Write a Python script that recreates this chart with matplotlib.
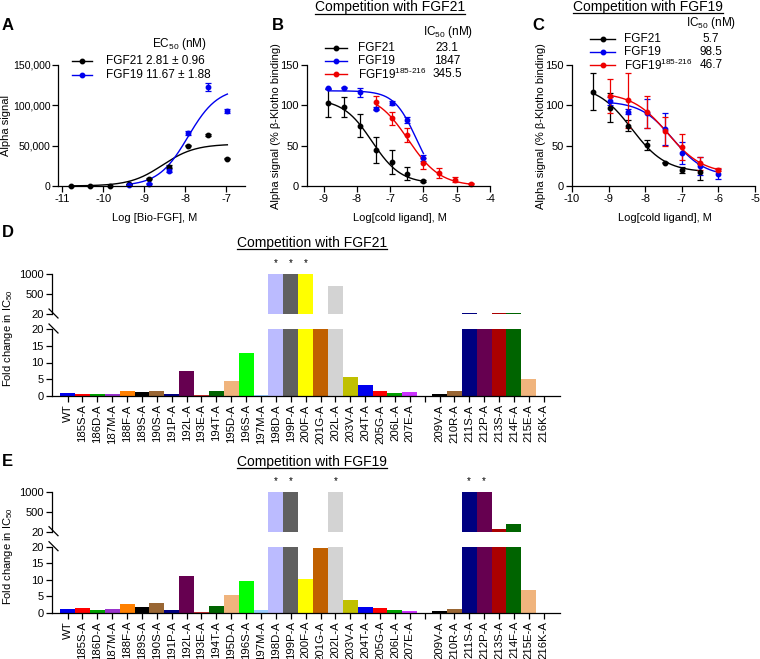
import numpy as np
import matplotlib
matplotlib.use("Agg")
import matplotlib.pyplot as plt
from matplotlib.lines import Line2D
from matplotlib.ticker import FuncFormatter

plt.rcParams['font.family'] = ['Liberation Sans', 'DejaVu Sans']
plt.rcParams['mathtext.fontset'] = 'custom'
plt.rcParams['mathtext.rm'] = 'Liberation Sans'
plt.rcParams['axes.unicode_minus'] = False
plt.rcParams['font.size'] = 8

# ========== Data: panel A (binding of biotinylated FGF) ==========
a_x21 = [-10.79, -10.31, -9.83, -9.36, -8.88, -8.40, -7.93, -7.45, -6.97]
a_y21 = [500, 300, 500, 2500, 9000, 24000, 50000, 63000, 34000]
a_e21 = [0, 0, 0, 500, 800, 1500, 1000, 1000, 1000]
a_x19 = [-9.36, -8.88, -8.40, -7.93, -7.45, -6.97]
a_y19 = [1000, 3000, 19000, 65500, 122500, 93000]
a_e19 = [300, 500, 1500, 2500, 5000, 2500]
# fit parameters: bottom, top, logEC50, hill
a_fit21 = (0, 52000, -8.55, 1.1)
a_fit19 = (0, 122000, -7.93, 1.2)

# ========== Data: panel B (competition with FGF21) ==========
b_x21 = [-8.86, -8.39, -7.91, -7.43, -6.95, -6.48, -6.0]
b_y21 = [103, 98, 75, 45, 30, 15, 6]
b_e21 = [17, 12, 14, 16, 15, 8, 1]
b_x19 = [-8.86, -8.39, -7.91, -7.43, -6.95, -6.48, -6.0]
b_y19 = [121, 122, 116, 96, 103, 82, 35]
b_e19 = [1, 1, 6, 2, 2, 4, 4]
b_xpep = [-7.43, -6.95, -6.48, -6.0, -5.52, -5.05, -4.57]
b_ypep = [104, 84, 63, 28, 16, 8, 3]
b_epep = [8, 8, 9, 7, 6, 3, 1]
b_fit21 = (3, 108, -7.55, 1.0)
b_fit19 = (0, 118, -6.22, 1.3)
b_fitpep = (0, 115, -6.46, 0.9)

# ========== Data: panel C (competition with FGF19) ==========
c_x21 = [-9.43, -8.95, -8.47, -7.95, -7.47, -7.0, -6.5]
c_y21 = [117, 97, 75, 51, 29, 20, 17]
c_e21 = [23, 18, 7, 6, 1, 4, 10]
c_x19 = [-8.95, -8.47, -7.95, -7.47, -7.0, -6.5, -6.0]
c_y19 = [105, 92, 90, 71, 41, 25, 15]
c_e19 = [5, 3, 18, 20, 14, 11, 6]
c_xpep = [-8.95, -8.47, -7.95, -7.47, -7.0, -6.5, -6.0]
c_ypep = [112, 106, 92, 68, 48, 28, 20]
c_epep = [21, 34, 20, 18, 16, 8, 2]
c_fit21 = (17, 125, -8.37, 0.93)
c_fit19 = (12, 105, -7.25, 1.0)
c_fitpep = (15, 116, -7.39, 0.9)

# ========== Data: panels D and E (alanine scan) ==========
mutants = ["WT", "185S-A", "186D-A", "187M-A", "188F-A", "189S-A", "190S-A",
           "191P-A", "192L-A", "193E-A", "194T-A", "195D-A", "196S-A", "197M-A",
           "198D-A", "199P-A", "200F-A", "201G-A", "202L-A", "203V-A", "204T-A",
           "205G-A", "206L-A", "207E-A", "", "209V-A", "210R-A", "211S-A",
           "212P-A", "213S-A", "214F-A", "215E-A", "216K-A"]
bar_colors = ["#0000EE", "#FF0000", "#00A000", "#9933CC", "#FF8000", "#000000",
              "#996633", "#000080", "#660050", "#CC3333", "#006400", "#F0B47D",
              "#00FF00", "#99CCFF", "#BBBBFF", "#606060", "#FFFF00", "#C06000",
              "#D3D3D3", "#C0C000", "#0000EE", "#FF0000", "#00A000", "#CC33FF",
              "#FFFFFF", "#000000", "#996633", "#000080", "#660050", "#AA0000",
              "#006400", "#F0B47D", "#CCCCCC"]
fold_d = [1.0, 0.7, 0.7, 0.7, 1.6, 1.3, 1.6, 0.6, 7.4, 0.3, 1.4, 4.4, 12.8, 0.4,
          1000, 1000, 1000, 19.95, 700, 5.6, 3.2, 1.5, 0.9, 1.2, 0, 0.7, 1.5,
          50, 19.95, 35, 50, 5.2, 0]
star_d = ["198D-A", "199P-A", "200F-A"]
fold_e = [1.0, 1.5, 0.8, 1.1, 2.6, 1.6, 2.9, 0.7, 11.2, 0.3, 2.1, 5.45, 9.6, 0.7,
          1000, 1000, 10.2, 19.5, 1000, 3.8, 1.6, 1.3, 0.8, 0.6, 0, 0.5, 1.1,
          1000, 1000, 85, 220, 6.9, 0]
star_e = ["198D-A", "199P-A", "202L-A", "211S-A", "212P-A"]

W, H = 760, 659
fig = plt.figure(figsize=(W / 100, H / 100), dpi=100)


def box(left, top, right, bottom):
    return [left / W, 1 - bottom / H, (right - left) / W, (bottom - top) / H]


def fx(x):
    return x / W


def fy(y):
    return 1 - y / H


def logistic(x, p):
    bottom, top, mid, hill = p
    return bottom + (top - bottom) / (1 + 10 ** ((mid - x) * hill))


def inv_logistic(x, p):
    bottom, top, mid, hill = p
    return bottom + (top - bottom) / (1 + 10 ** ((x - mid) * hill))


def style_axes(ax):
    for s in ("top", "right"):
        ax.spines[s].set_visible(False)
    for s in ("left", "bottom"):
        ax.spines[s].set_linewidth(0.9)
    ax.tick_params(direction="out", length=4, width=0.9, labelsize=8, pad=2)


def series(ax, x, y, e, fit, color, inverse=True):
    xs = np.linspace(min(x), max(x), 200)
    f = inv_logistic if inverse else logistic
    ax.plot(xs, f(xs, fit), color=color, lw=1.0, clip_on=False)
    ax.errorbar(x, y, yerr=e, fmt="o", color=color, ms=3.2, capsize=2.2,
                elinewidth=0.9, capthick=0.9, clip_on=False)


def legend_row(x0, x1, y, color, name, name_x, value, value_x, ha="left"):
    fig.add_artist(Line2D([fx(x0), fx(x1)], [fy(y), fy(y)], color=color, lw=1.0))
    fig.add_artist(Line2D([fx((x0 + x1) / 2)], [fy(y)], color=color,
                          marker="o", ms=3.2, lw=0))
    fig.text(fx(name_x), fy(y), name, ha="left", va="center", fontsize=8.5)
    fig.text(fx(value_x), fy(y), value, ha=ha, va="center", fontsize=8.5)


pep = r"FGF19$^{\mathregular{185\text{-}216}}$"

# ========== Panel A ==========
axA = fig.add_axes(box(58, 65, 245, 186))
style_axes(axA)
series(axA, a_x21, a_y21, a_e21, a_fit21, "black", inverse=False)
series(axA, a_x19, a_y19, a_e19, a_fit19, "#0000EE", inverse=False)
axA.set_xlim(-11.1, -6.54)
axA.set_ylim(0, 150000)
axA.set_xticks([-11, -10, -9, -8, -7])
axA.set_yticks([0, 50000, 100000, 150000])
axA.tick_params(axis="y", labelsize=7.6, pad=1.5)
axA.yaxis.set_major_formatter(FuncFormatter(lambda v, p: f"{int(v):,}"))
fig.text(fx(6), fy(126), "Alpha signal", rotation=90, ha="center", va="center")
fig.text(fx(155), fy(218), "Log [Bio-FGF], M", ha="center", va="center")
fig.text(fx(2), fy(25), "A", fontsize=12, fontweight="bold", va="center")
fig.text(fx(152), fy(44), r"EC$_{\mathregular{50}}$ (nM)", ha="left", va="center", fontsize=8.5)
legend_row(72, 92, 61, "black", "FGF21", 106, "2.81 ± 0.96", 146)
legend_row(72, 92, 75, "#0000EE", "FGF19", 106, "11.67 ± 1.88", 146)

# ========== Panel B ==========
axB = fig.add_axes(box(307, 65, 490, 186))
style_axes(axB)
series(axB, b_x21, b_y21, b_e21, b_fit21, "black")
series(axB, b_x19, b_y19, b_e19, b_fit19, "#0000EE")
series(axB, b_xpep, b_ypep, b_epep, b_fitpep, "#EE0000")
axB.set_xlim(-9.5, -4)
axB.set_ylim(0, 150)
axB.set_xticks([-9, -8, -7, -6, -5, -4])
axB.set_yticks([0, 50, 100, 150])
fig.text(fx(276), fy(126), "Alpha signal (% β-Klotho binding)", rotation=90,
         ha="center", va="center")
fig.text(fx(400), fy(218), "Log[cold ligand], M", ha="center", va="center")
fig.text(fx(272), fy(25), "B", fontsize=12, fontweight="bold", va="center")
fig.text(fx(448), fy(32), r"IC$_{\mathregular{50}}$ (nM)", ha="center", va="center", fontsize=8.5)
legend_row(325, 347, 48, "black", "FGF21", 358, "23.1", 447, "center")
legend_row(325, 347, 61, "#0000EE", "FGF19", 358, "1847", 447, "center")
legend_row(325, 347, 74, "#EE0000", pep, 358, "345.5", 447, "center")

# ========== Panel C ==========
axC = fig.add_axes(box(572, 65, 755, 186))
style_axes(axC)
series(axC, c_x21, c_y21, c_e21, c_fit21, "black")
series(axC, c_x19, c_y19, c_e19, c_fit19, "#0000EE")
series(axC, c_xpep, c_ypep, c_epep, c_fitpep, "#EE0000")
axC.set_xlim(-10, -5)
axC.set_ylim(0, 150)
axC.set_xticks([-10, -9, -8, -7, -6, -5])
axC.set_yticks([0, 50, 100, 150])
fig.text(fx(541), fy(126), "Alpha signal (% β-Klotho binding)", rotation=90,
         ha="center", va="center")
fig.text(fx(665), fy(218), "Log[cold ligand], M", ha="center", va="center")
fig.text(fx(532), fy(25), "C", fontsize=12, fontweight="bold", va="center")
fig.text(fx(711), fy(23), r"IC$_{\mathregular{50}}$ (nM)", ha="center", va="center", fontsize=8.5)
legend_row(590, 615, 39, "black", "FGF21", 624, "5.7", 711, "center")
legend_row(590, 615, 52, "#0000EE", "FGF19", 624, "98.5", 711, "center")
legend_row(590, 615, 65, "#EE0000", pep, 624, "46.7", 711, "center")

titles = []
titles.append(fig.text(fx(390), fy(11.5), "Competition with FGF21", ha="center", va="baseline", fontsize=10))
titles.append(fig.text(fx(648), fy(11), "Competition with FGF19", ha="center", va="baseline", fontsize=10))


# ========== Panels D and E ==========
def bar_panel(values, stars, top_up, bot_up, top_lo, bot_lo, label, label_y, title_y, ylab_y, title):
    pos = np.arange(len(mutants))
    up = fig.add_axes(box(52, top_up, 560, bot_up))
    lo = fig.add_axes(box(52, top_lo, 560, bot_lo))
    for ax in (up, lo):
        style_axes(ax)
        ax.bar(pos, values, width=1.0, color=bar_colors, linewidth=0)
        ax.set_xlim(-1.05, 33.1)
    up.set_ylim(20, 1000)
    up.set_yticks([20, 500, 1000])
    up.spines["bottom"].set_visible(False)
    up.tick_params(axis="x", bottom=False, labelbottom=False)
    lo.set_ylim(0, 20)
    lo.set_yticks([0, 5, 10, 15, 20])
    lo.set_xticks(pos)
    lo.set_xticklabels(mutants, rotation=90, fontsize=8.2)
    lo.tick_params(axis="x", pad=2)
    for name in stars:
        i = mutants.index(name)
        up.annotate("*", xy=(i, 1000), xytext=(0, 8), textcoords="offset points",
                    ha="center", va="center", fontsize=7)
    # axis break marks
    for yb in (bot_up, top_lo):
        fig.add_artist(Line2D([fx(49), fx(58)], [fy(yb - 5), fy(yb + 4)], color="black", lw=0.9))
    fig.text(fx(8), fy(ylab_y), r"Fold change in IC$_{\mathregular{50}}$", rotation=90,
             ha="center", va="center")
    fig.text(fx(2), fy(label_y), label, fontsize=12, fontweight="bold", va="center")
    titles.append(fig.text(fx(312), fy(title_y), title, ha="center", va="baseline", fontsize=10))


bar_panel(fold_d, star_d, 274, 314, 329, 396, "D", 232, 247, 338, "Competition with FGF21")
bar_panel(fold_e, star_e, 491.7, 531.7, 546.7, 612.7, "E", 462, 466, 556, "Competition with FGF19")

# underline the titles
fig.canvas.draw()
renderer = fig.canvas.get_renderer()
for t in titles:
    bb = t.get_window_extent(renderer)
    yline = (bb.y0 + 1) / H
    fig.add_artist(Line2D([bb.x0 / W, bb.x1 / W], [yline, yline], color="black", lw=0.9))

fig.savefig("out.png", dpi=100)
